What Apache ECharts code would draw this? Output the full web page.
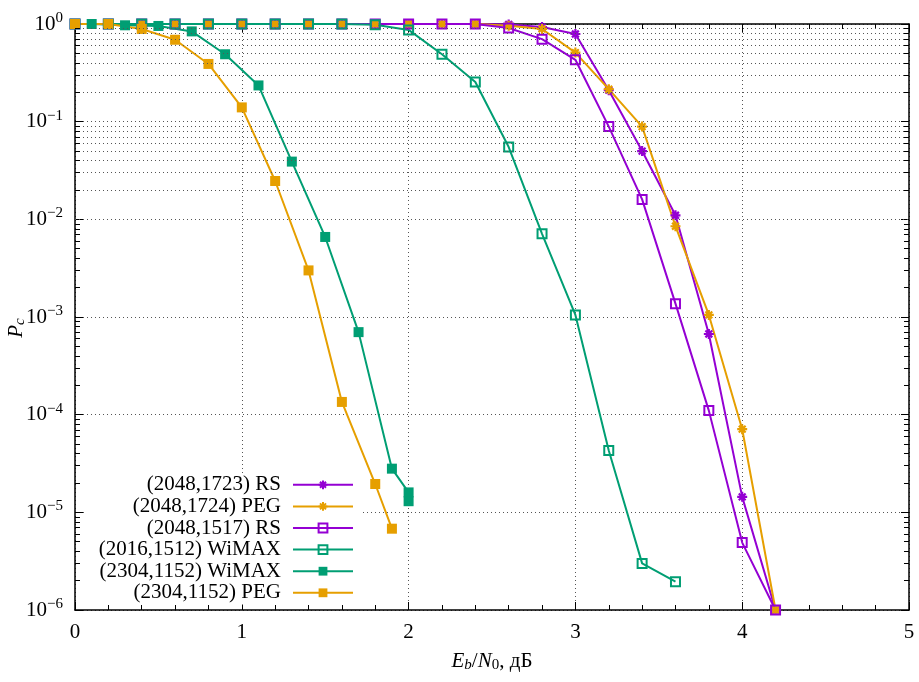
<!DOCTYPE html>
<html>
<head>
<meta charset="utf-8">
<script src="https://cdn.jsdelivr.net/npm/echarts@6/dist/echarts.min.js"></script>
<style>
  html, body { margin: 0; padding: 0; background: #fff; }
  #chart { width: 919px; height: 682px; }
</style>
</head>
<body>
<div id="chart"></div>
<script>
// Codeword error probability vs Eb/N0 for several LDPC codes

const seriesNames = [
  '(2048,1723) RS',
  '(2048,1724) PEG',
  '(2048,1517) RS',
  '(2016,1512) WiMAX',
  '(2304,1152) WiMAX',
  '(2304,1152) PEG'
];

const ebnoFull = [0, 0.2, 0.4, 0.6, 0.8, 1.0, 1.2, 1.4, 1.6, 1.8, 2.0, 2.2, 2.4, 2.6, 2.8, 3.0, 3.2, 3.4, 3.6, 3.8, 4.0, 4.2];

const rs1723 = [1, 1, 1, 1, 1, 1, 1, 1, 1, 1, 1, 1, 1, 0.99, 0.93, 0.79, 0.21, 0.050, 0.011, 6.7e-4, 1.44e-5, 1e-6];
const peg1724 = [1, 1, 1, 1, 1, 1, 1, 1, 1, 1, 1, 1, 1, 0.96, 0.89, 0.51, 0.215, 0.089, 0.0085, 1.05e-3, 7.1e-5, 1e-6];
const rs1517 = [1, 1, 1, 1, 1, 1, 1, 1, 1, 1, 1, 1, 1, 0.91, 0.70, 0.43, 0.089, 0.016, 1.37e-3, 1.1e-4, 4.9e-6, 1e-6];

const ebnoWimax1512 = [0, 0.2, 0.4, 0.6, 0.8, 1.0, 1.2, 1.4, 1.6, 1.8, 2.0, 2.2, 2.4, 2.6, 2.8, 3.0, 3.2, 3.4, 3.6];
const wimax1512 = [1, 1, 1, 1, 1, 1, 1, 1, 1, 0.98, 0.87, 0.49, 0.255, 0.055, 0.0071, 1.05e-3, 4.3e-5, 3.0e-6, 1.95e-6];

const ebnoWimax1152 = [0.1, 0.3, 0.5, 0.7, 0.9, 1.1, 1.3, 1.5, 1.7, 1.9, 2.0, 2.0];
const wimax1152 = [1, 0.97, 0.955, 0.84, 0.49, 0.235, 0.039, 0.0066, 7.0e-4, 2.8e-5, 1.6e-5, 1.3e-5];

const ebnoPeg1152 = [0, 0.2, 0.4, 0.6, 0.8, 1.0, 1.2, 1.4, 1.6, 1.8, 1.9];
const peg1152 = [1, 1, 0.89, 0.69, 0.39, 0.14, 0.0247, 0.0030, 1.35e-4, 1.95e-5, 6.8e-6];

const xTicks = [0, 1, 2, 3, 4, 5];
const yDecades = [-6, -5, -4, -3, -2, -1, 0];

const PURPLE = '#9400d3';
const ORANGE = '#e69f00';
const TEAL = '#009e73';
const FONT = 'Liberation Serif';

const pairs = (xs, ys) => xs.map((x, i) => [x, ys[i]]);

const ASTERISK = 'path://M0,5L10,5M5,0L5,10M1.6,1.6L8.4,8.4M1.6,8.4L8.4,1.6';

function curve(name, xs, ys, color, kind) {
  const s = {
    name,
    type: 'line',
    data: pairs(xs, ys),
    lineStyle: { color, width: 2 },
    emphasis: { disabled: true },
    animation: false,
    z: 3
  };
  if (kind === 'star') {
    s.symbol = ASTERISK;
    s.symbolSize = 10;
    s.itemStyle = { color: 'rgba(0,0,0,0)', borderColor: color, borderWidth: 2.2 };
  } else if (kind === 'open') {
    s.symbol = 'rect';
    s.symbolSize = 9;
    s.itemStyle = { color: 'rgba(0,0,0,0)', borderColor: color, borderWidth: 2 };
  } else {
    s.symbol = 'rect';
    s.symbolSize = 10;
    s.itemStyle = { color, borderWidth: 0 };
  }
  return s;
}

// Minor decade lines (2..9 x 10^k) for the logarithmic grid, plus short inner ticks on both sides
const minorValues = [];
yDecades.slice(0, -1).forEach(k => {
  for (let m = 2; m <= 9; m++) minorValues.push(m * Math.pow(10, k));
});
const gridLines = minorValues.map(v => ({ yAxis: v }));
const minorTicks = [];
minorValues.forEach(v => {
  minorTicks.push([{ coord: [0, v] }, { coord: [0.03, v] }]);
  minorTicks.push([{ coord: [5, v] }, { coord: [4.97, v] }]);
});

const dotted = { color: '#555', width: 1, type: [1, 3] };

const supLabel = v => {
  const e = Math.round(Math.log10(v));
  return '{m|10}{e|' + (e < 0 ? '\u2212' + (-e) : String(e)) + '}';
};

const option = {
  backgroundColor: '#fff',
  animation: false,
  textStyle: { fontFamily: FONT },
  grid: { left: 75, right: 10, top: 24, bottom: 72, containLabel: false, outerBoundsMode: 'none' },
  legend: {
    data: seriesNames,
    orient: 'vertical',
    left: 84,
    top: 473,
    padding: [1, 8, 1, 2],
    itemGap: 0,
    itemWidth: 60,
    itemHeight: 11,
    align: 'right',
    selectedMode: false,
    backgroundColor: '#fff',
    textStyle: {
      fontFamily: FONT,
      fontSize: 21,
      color: '#000',
      width: 195,
      align: 'right',
      lineHeight: 21.6,
      padding: [0, 7, 0, 0]
    }
  },
  xAxis: [
    {
      type: 'value',
      min: 0, max: 5, interval: 1,
      position: 'bottom',
      axisLine: { show: true, onZero: false, lineStyle: { color: '#000', width: 1.5 } },
      axisTick: { show: true, inside: true, length: 8, lineStyle: { color: '#000' } },
      minorTick: { show: true, splitNumber: 5, length: 5, lineStyle: { color: '#000' } },
      axisLabel: {
        fontFamily: FONT, fontSize: 21, color: '#000', margin: 12,
        formatter: v => (xTicks.includes(v) ? String(v) : '')
      },
      splitLine: { show: true, lineStyle: dotted },
      name: '{i|E}{is|b}{n|/}{i|N}{s|0}{n|, дБ}',
      nameLocation: 'middle',
      nameGap: 40,
      nameMoveOverlap: false,
      nameTextStyle: {
        rich: {
          i: { fontFamily: FONT, fontSize: 21, fontStyle: 'italic', color: '#000' },
          is: { fontFamily: FONT, fontSize: 15, fontStyle: 'italic', color: '#000', padding: [8, 0, 0, 0] },
          s: { fontFamily: FONT, fontSize: 15, color: '#000', padding: [8, 0, 0, 0] },
          n: { fontFamily: FONT, fontSize: 21, color: '#000' }
        }
      }
    },
    {
      type: 'value',
      min: 0, max: 5, interval: 1,
      position: 'top',
      axisLine: { show: true, onZero: false, lineStyle: { color: '#000', width: 1.5 } },
      axisTick: { show: true, inside: true, length: 8, lineStyle: { color: '#000' } },
      minorTick: { show: true, splitNumber: 5, length: 5, lineStyle: { color: '#000' } },
      axisLabel: { show: false },
      splitLine: { show: false }
    }
  ],
  yAxis: [
    {
      type: 'log',
      logBase: 10,
      min: 1e-6, max: 1,
      position: 'left',
      axisLine: { show: true, onZero: false, lineStyle: { color: '#000', width: 1.5 } },
      axisTick: { show: true, inside: true, length: 8, lineStyle: { color: '#000' } },
      axisLabel: {
        margin: 12,
        formatter: supLabel,
        rich: {
          m: { fontFamily: FONT, fontSize: 21, color: '#000' },
          e: { fontFamily: FONT, fontSize: 15, color: '#000', padding: [0, 0, 12, 0] }
        }
      },
      splitLine: { show: true, lineStyle: dotted },
      name: '{i|P}{s|c}',
      nameLocation: 'middle',
      nameGap: 47,
      nameMoveOverlap: false,
      nameRotate: 90,
      nameTextStyle: {
        padding: [0, 22, 0, 0],
        rich: {
          i: { fontFamily: FONT, fontSize: 21, fontStyle: 'italic', color: '#000' },
          s: { fontFamily: FONT, fontSize: 15, fontStyle: 'italic', color: '#000', padding: [8, 0, 0, 0] }
        }
      }
    },
    {
      type: 'log',
      logBase: 10,
      min: 1e-6, max: 1,
      position: 'right',
      axisLine: { show: true, onZero: false, lineStyle: { color: '#000', width: 1.5 } },
      axisTick: { show: true, inside: true, length: 8, lineStyle: { color: '#000' } },
      axisLabel: { show: false },
      splitLine: { show: false }
    }
  ],
  series: [
    {
      name: 'grid-minor',
      type: 'line',
      data: [],
      silent: true,
      z: 1,
      markLine: {
        silent: true,
        symbol: 'none',
        animation: false,
        label: { show: false },
        lineStyle: dotted,
        emphasis: { disabled: true },
        data: gridLines
      }
    },
    {
      name: 'ticks-minor',
      type: 'line',
      data: [],
      silent: true,
      z: 5,
      markLine: {
        silent: true,
        symbol: 'none',
        animation: false,
        label: { show: false },
        lineStyle: { color: '#000', width: 1, type: 'solid' },
        emphasis: { disabled: true },
        data: minorTicks
      }
    },
    curve(seriesNames[0], ebnoFull, rs1723, PURPLE, 'star'),
    curve(seriesNames[1], ebnoFull, peg1724, ORANGE, 'star'),
    curve(seriesNames[2], ebnoFull, rs1517, PURPLE, 'open'),
    curve(seriesNames[3], ebnoWimax1512, wimax1512, TEAL, 'open'),
    curve(seriesNames[4], ebnoWimax1152, wimax1152, TEAL, 'filled'),
    curve(seriesNames[5], ebnoPeg1152, peg1152, ORANGE, 'filled')
  ]
};

const chart = echarts.init(document.getElementById('chart'), null, { renderer: 'canvas' });
chart.setOption(option);
</script>
</body>
</html>
